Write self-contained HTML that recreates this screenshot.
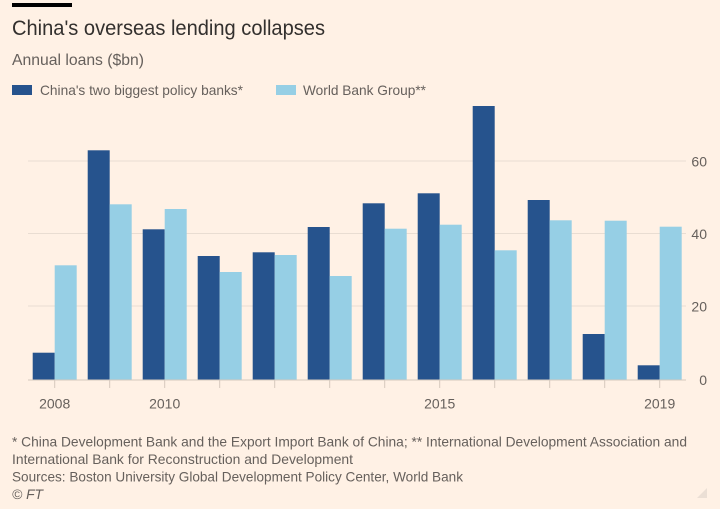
<!DOCTYPE html>
<html><head><meta charset="utf-8"><style>
html,body{margin:0;padding:0;background:#fff1e5;}
svg{display:block;font-family:"Liberation Sans",sans-serif;}
</style></head><body>
<svg width="720" height="509" viewBox="0 0 720 509" xmlns="http://www.w3.org/2000/svg">
<rect x="0" y="0" width="720" height="509" fill="#fff1e5"/>
<rect x="12" y="3" width="60" height="4" fill="#000"/>
<text x="12" y="35" font-size="21" fill="#33302e" textLength="313" lengthAdjust="spacingAndGlyphs">China's overseas lending collapses</text>
<text x="12" y="65" font-size="16" fill="#66605c" textLength="132" lengthAdjust="spacingAndGlyphs">Annual loans ($bn)</text>
<rect x="12" y="85" width="20" height="10" fill="#26538d"/>
<text x="40" y="95" font-size="14" fill="#66605c" textLength="203" lengthAdjust="spacingAndGlyphs">China's two biggest policy banks*</text>
<rect x="276" y="85" width="20" height="10" fill="#96cfe5"/>
<text x="303" y="95" font-size="14" fill="#66605c" textLength="123" lengthAdjust="spacingAndGlyphs">World Bank Group**</text>
<g stroke="#e9ddd2" stroke-width="1">
<line x1="28" y1="161" x2="686" y2="161"/>
<line x1="28" y1="233.5" x2="686" y2="233.5"/>
<line x1="28" y1="306" x2="686" y2="306"/>
</g>
<g font-size="14" fill="#66605c" text-anchor="end">
<text x="707" y="166.5">60</text>
<text x="707" y="239">40</text>
<text x="707" y="311.5">20</text>
<text x="707" y="385">0</text>
</g>
<g fill="#26538d">
<rect x="32.7" y="352.7" width="22" height="27.3"/>
<rect x="87.7" y="150.3" width="22" height="229.7"/>
<rect x="142.7" y="229.3" width="22" height="150.7"/>
<rect x="197.7" y="256" width="22" height="124"/>
<rect x="252.7" y="252.3" width="22" height="127.7"/>
<rect x="307.7" y="227" width="22" height="153"/>
<rect x="362.7" y="203.3" width="22" height="176.7"/>
<rect x="417.7" y="193.3" width="22" height="186.7"/>
<rect x="472.7" y="106" width="22" height="274"/>
<rect x="527.7" y="200" width="22" height="180"/>
<rect x="582.7" y="334" width="22" height="46"/>
<rect x="637.7" y="365.3" width="22" height="14.7"/>
</g>
<g fill="#96cfe5">
<rect x="54.7" y="265.3" width="22" height="114.7"/>
<rect x="109.7" y="204.3" width="22" height="175.7"/>
<rect x="164.7" y="209" width="22" height="171"/>
<rect x="219.7" y="272" width="22" height="108"/>
<rect x="274.7" y="255" width="22" height="125"/>
<rect x="329.7" y="276" width="22" height="104"/>
<rect x="384.7" y="228.7" width="22" height="151.3"/>
<rect x="439.7" y="224.7" width="22" height="155.3"/>
<rect x="494.7" y="250.3" width="22" height="129.7"/>
<rect x="549.7" y="220.3" width="22" height="159.7"/>
<rect x="604.7" y="220.7" width="22" height="159.3"/>
<rect x="659.7" y="226.7" width="22" height="153.3"/>
</g>
<line x1="28" y1="380" x2="686" y2="380" stroke="#d6c9bd" stroke-width="1"/>
<g stroke="#d6c9bd" stroke-width="1">
<line x1="54.7" y1="380" x2="54.7" y2="388"/>
<line x1="109.7" y1="380" x2="109.7" y2="388"/>
<line x1="164.7" y1="380" x2="164.7" y2="388"/>
<line x1="219.7" y1="380" x2="219.7" y2="388"/>
<line x1="274.7" y1="380" x2="274.7" y2="388"/>
<line x1="329.7" y1="380" x2="329.7" y2="388"/>
<line x1="384.7" y1="380" x2="384.7" y2="388"/>
<line x1="439.7" y1="380" x2="439.7" y2="388"/>
<line x1="494.7" y1="380" x2="494.7" y2="388"/>
<line x1="549.7" y1="380" x2="549.7" y2="388"/>
<line x1="604.7" y1="380" x2="604.7" y2="388"/>
<line x1="659.7" y1="380" x2="659.7" y2="388"/>
</g>
<g font-size="14" fill="#66605c" text-anchor="middle">
<text x="54.7" y="408.5">2008</text>
<text x="164.7" y="408.5">2010</text>
<text x="439.7" y="408.5">2015</text>
<text x="659.7" y="408.5">2019</text>
</g>
<g font-size="14" fill="#66605c">
<text x="12" y="446.5" textLength="675" lengthAdjust="spacingAndGlyphs">* China Development Bank and the Export Import Bank of China; ** International Development Association and</text>
<text x="12" y="464" textLength="341" lengthAdjust="spacingAndGlyphs">International Bank for Reconstruction and Development</text>
<text x="12" y="481.5" textLength="451" lengthAdjust="spacingAndGlyphs">Sources: Boston University Global Development Policy Center, World Bank</text>
<text x="12" y="499" font-style="italic" textLength="31" lengthAdjust="spacingAndGlyphs">© FT</text>
</g>
<polygon points="707,488 707,498 697,498" fill="#ebdfd5"/>
</svg>
</body></html>
